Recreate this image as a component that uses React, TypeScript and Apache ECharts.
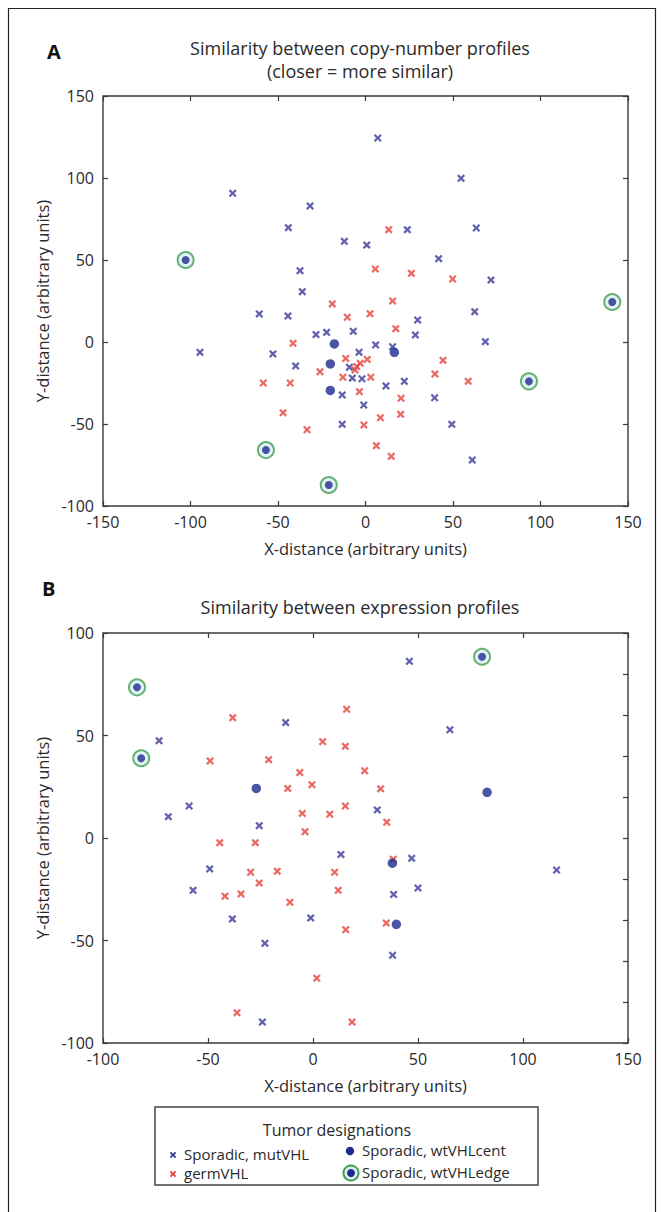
import React, { useEffect, useRef } from "react";
import * as echarts from "echarts";

// ---- Panel A: copy-number profiles ----
const copyMutVHL: [number, number][] = [
  [-75.9, 90.7], [-31.7, 83], [-44.1, 69.7], [-12.1, 61.4], [-37.4, 43.5], [-36.1, 30.7],
  [7, 124.4], [54.6, 99.8], [23.9, 68.5], [63.3, 69.5], [0.7, 59.1], [41.8, 50.8],
  [71.7, 37.8], [-60.7, 17.1], [-44.3, 15.9], [-28.3, 4.5], [-22.2, 5.9], [-7, 6.5],
  [-94.6, -6.3], [-52.9, -7.3], [-39.9, -14.6], [-9.2, -15.4], [-7.5, -22], [-13.3, -32.3],
  [-13.3, -50.2], [62.4, 18.5], [29.8, 13.4], [28.5, 4.3], [68.5, 0.2], [5.8, -1.8],
  [15.5, -2.9], [-3.7, -6.3], [-2, -22.4], [11.7, -26.8], [22.2, -24], [-1, -38.4],
  [39.5, -34], [49.3, -50.2], [61, -72],
];
const copyGermVHL: [number, number][] = [
  [13.3, 68.5], [5.6, 44.5], [26.2, 41.9], [49.8, 38.4], [15.5, 25], [-19, 23.2],
  [-10.4, 15.1], [-41.4, -0.8], [-26, -18.1], [-11.3, -10], [-5, -15], [-3, -13],
  [-6, -17], [-12.9, -21.5], [-58.4, -25], [-43, -25], [-3.5, -30.3], [-47.1, -43.1],
  [-33.4, -53.5], [2.6, 17.3], [17.3, 8.1], [1, -10.6], [44.3, -11.2], [39.7, -19.5],
  [58.7, -24], [3, -21.5], [20.3, -34.3], [8.5, -46.2], [20.1, -44.1], [-0.9, -50.6],
  [6.2, -63.2], [14.7, -69.7],
];
const copyWtCent: [number, number][] = [[-17.8, -1.2], [-20.1, -13.4], [-20.1, -29.5], [16.5, -6.3]];
const copyWtEdge: [number, number][] = [[-102.8, 50], [141, 24.4], [93.4, -24], [-56.9, -65.9], [-21, -87.2]];

// ---- Panel B: expression profiles ----
const exprMutVHL: [number, number][] = [
  [-13, 56.3], [-73.3, 47.5], [-59, 15.6], [-68.9, 10.4], [-25.6, 6], [13.3, -8],
  [-49.2, -15.1], [-57.1, -25.5], [-38.4, -39.5], [-1.1, -39], [-22.9, -51.4], [-24.1, -89.8],
  [45.9, 86.2], [65.2, 52.8], [30.6, 13.7], [47, -9.9], [116, -15.6], [38.4, -27.5],
  [50, -24.4], [37.9, -57.2],
];
const exprGermVHL: [number, number][] = [
  [-38.2, 58.7], [16, 62.8], [-49, 37.6], [-21.1, 38.2], [4.6, 47], [15.4, 44.7],
  [-6.3, 31.9], [-0.5, 26], [-12, 24.2], [-5.1, 12], [8, 11.6], [15.4, 15.6],
  [-3.8, 3.1], [-44.4, -2.3], [-27.5, -2.3], [-29.7, -16.7], [-17, -16.2], [10.3, -16.7],
  [-25.6, -22], [-41.9, -28.4], [-34.3, -27.3], [12, -25.5], [-11, -31.4], [15.6, -44.7],
  [1.8, -68.4], [-36.2, -85.2], [18.6, -89.8], [24.6, 32.8], [32.2, 24], [35.1, 7.7],
  [38.2, -10.4], [34.9, -41.5],
];
const exprWtCent: [number, number][] = [[-27, 24.2], [82.9, 22.3], [37.8, -12.3], [39.7, -42.1]];
const exprWtEdge: [number, number][] = [[-83.8, 73.5], [-81.8, 38.9], [80.5, 88.4]];

// ---- axes / text ----
const copyXRange = [-150, 150];
const copyYRange = [-100, 150];
const exprXRange = [-100, 150];
const exprYRange = [-100, 100];
const tickStep = 50;
const exprRightTickStep = 20;
const titleA = ["Similarity between copy-number profiles", "(closer = more similar)"];
const titleB = "Similarity between expression profiles";
const xName = "X-distance (arbitrary units)";
const yName = "Y-distance (arbitrary units)";
const legendTitle = "Tumor designations";
const legendNames = ["Sporadic, mutVHL", "germVHL", "Sporadic, wtVHLcent", "Sporadic, wtVHLedge"];

const BLUE = "#3a3a98";
const RED = "#e6433c";
const DOT = "#1e2a8e";
const GREEN = "#3f9e52";
const EDGE_FILL = "#dcf0f2";
const AXIS = "#3a3a3a";
const TEXT = "#2a2a2a";
const FONT = "'Open Sans', 'Noto Sans', sans-serif";
const XSYM = "path://M0,2L2,0L5,3L8,0L10,2L7,5L10,8L8,10L5,7L2,10L0,8L3,5Z";

function xPoly(cx: number, cy: number, s: number, color: string) {
  const k = s / 10;
  const pts = [[0, 2], [2, 0], [5, 3], [8, 0], [10, 2], [7, 5], [10, 8], [8, 10], [5, 7], [2, 10], [0, 8], [3, 5]].map(
    ([a, b]) => [cx - s / 2 + a * k, cy - s / 2 + b * k]
  );
  return { type: "polygon", shape: { points: pts }, style: { fill: color }, silent: true };
}

export default function App() {
  const ref = useRef<HTMLDivElement>(null);
  useEffect(() => {
    if (!ref.current) return;
    const chart = echarts.init(ref.current, null, { renderer: "svg" });

    const baseX = (range: number[], gi: number, showLabels: boolean, pos: string) => ({
      type: "value",
      gridIndex: gi,
      min: range[0],
      max: range[1],
      interval: tickStep,
      position: pos,
      name: showLabels ? xName : "",
      nameLocation: "middle",
      nameGap: 34,
      nameTextStyle: { fontSize: 16.5, color: TEXT, fontFamily: FONT },
      axisLine: { show: false, onZero: false },
      axisTick: { show: true, inside: true, length: 5, lineStyle: { color: AXIS, width: 1.2 } },
      axisLabel: { show: showLabels, fontSize: 16, color: TEXT, fontFamily: FONT, margin: 8 },
      splitLine: { show: false },
    });
    const baseY = (range: number[], gi: number, showLabels: boolean, pos: string, step: number) => ({
      type: "value",
      gridIndex: gi,
      min: range[0],
      max: range[1],
      interval: step,
      position: pos,
      name: showLabels ? yName : "",
      nameLocation: "middle",
      nameGap: 38,
      nameTextStyle: { fontSize: 16.5, color: TEXT, fontFamily: FONT },
      axisLine: { show: false, onZero: false },
      axisTick: { show: true, inside: true, length: 5, lineStyle: { color: AXIS, width: 1.2 } },
      axisLabel: { show: showLabels, fontSize: 16, color: TEXT, fontFamily: FONT, margin: 9 },
      splitLine: { show: false },
    });

    const seriesFor = (xi: number, yi: number, mut: any, germ: any, cent: any, edge: any) => [
      { type: "scatter", xAxisIndex: xi, yAxisIndex: yi, data: mut, symbol: XSYM, symbolSize: 8, itemStyle: { color: BLUE }, z: 2 },
      { type: "scatter", xAxisIndex: xi, yAxisIndex: yi, data: germ, symbol: XSYM, symbolSize: 8, itemStyle: { color: RED }, z: 3 },
      { type: "scatter", xAxisIndex: xi, yAxisIndex: yi, data: cent, symbol: "circle", symbolSize: 9.5, itemStyle: { color: DOT }, z: 4 },
      { type: "scatter", xAxisIndex: xi, yAxisIndex: yi, data: edge, symbol: "circle", symbolSize: 16, itemStyle: { color: EDGE_FILL, borderColor: GREEN, borderWidth: 2 }, z: 5 },
      { type: "scatter", xAxisIndex: xi, yAxisIndex: yi, data: edge, symbol: "circle", symbolSize: 8, itemStyle: { color: DOT }, z: 6 },
    ];

    const legendX = 155, legendY = 1107;
    const graphic: any[] = [
      { type: "rect", shape: { x: 8.5, y: 8.5, width: 647, height: 1230 }, style: { fill: "none", stroke: "#222", lineWidth: 1.2 }, silent: true },
      { type: "text", x: 47, y: 41, style: { text: "A", fontSize: 20, fontWeight: "bold", fontFamily: FONT, fill: "#111" } },
      { type: "text", x: 360, y: 39, style: { text: titleA[0], fontSize: 18, fontFamily: FONT, fill: TEXT, textAlign: "center" } },
      { type: "text", x: 360, y: 62, style: { text: titleA[1], fontSize: 18, fontFamily: FONT, fill: TEXT, textAlign: "center" } },
      { type: "text", x: 42, y: 578, style: { text: "B", fontSize: 20, fontWeight: "bold", fontFamily: FONT, fill: "#111" } },
      { type: "text", x: 360, y: 598, style: { text: titleB, fontSize: 18, fontFamily: FONT, fill: TEXT, textAlign: "center" } },
      { type: "rect", shape: { x: legendX, y: legendY, width: 383, height: 78 }, style: { fill: "#fff", stroke: "#444", lineWidth: 1.5 }, silent: true },
      { type: "text", x: 337, y: 1122, style: { text: legendTitle, fontSize: 16, fontFamily: FONT, fill: TEXT, textAlign: "center" } },
      xPoly(173, 1155, 6.5, BLUE),
      { type: "text", x: 184, y: 1146, style: { text: legendNames[0], fontSize: 15, fontFamily: FONT, fill: TEXT } },
      xPoly(173, 1174, 6.5, RED),
      { type: "text", x: 184, y: 1165, style: { text: legendNames[1], fontSize: 15, fontFamily: FONT, fill: TEXT } },
      { type: "circle", shape: { cx: 350, cy: 1151, r: 4.2 }, style: { fill: DOT } },
      { type: "text", x: 362, y: 1142, style: { text: legendNames[2], fontSize: 15, fontFamily: FONT, fill: TEXT } },
      { type: "circle", shape: { cx: 351, cy: 1173, r: 7.5 }, style: { fill: EDGE_FILL, stroke: GREEN, lineWidth: 2 } },
      { type: "circle", shape: { cx: 351, cy: 1173, r: 4 }, style: { fill: DOT } },
      { type: "text", x: 362, y: 1164, style: { text: legendNames[3], fontSize: 15, fontFamily: FONT, fill: TEXT } },
    ];

    chart.setOption({
      animation: false,
      backgroundColor: "#fff",
      grid: [
        { left: 103, top: 96, width: 525, height: 410, show: true, borderColor: AXIS, borderWidth: 1.4, backgroundColor: "#fff" },
        { left: 103, top: 633, width: 525, height: 410, show: true, borderColor: AXIS, borderWidth: 1.4, backgroundColor: "#fff" },
      ],
      xAxis: [
        baseX(copyXRange, 0, true, "bottom"),
        baseX(copyXRange, 0, false, "top"),
        baseX(exprXRange, 1, true, "bottom"),
        baseX(exprXRange, 1, false, "top"),
      ],
      yAxis: [
        baseY(copyYRange, 0, true, "left", tickStep),
        baseY(copyYRange, 0, false, "right", tickStep),
        baseY(exprYRange, 1, true, "left", tickStep),
        baseY(exprYRange, 1, false, "right", exprRightTickStep),
      ],
      series: [
        ...seriesFor(0, 0, copyMutVHL, copyGermVHL, copyWtCent, copyWtEdge),
        ...seriesFor(2, 2, exprMutVHL, exprGermVHL, exprWtCent, exprWtEdge),
      ],
      graphic,
    });
    return () => chart.dispose();
  }, []);
  return <div ref={ref} style={{ position: "absolute", left: 0, top: 0, width: 663, height: 1212, background: "#fff" }} />;
}
